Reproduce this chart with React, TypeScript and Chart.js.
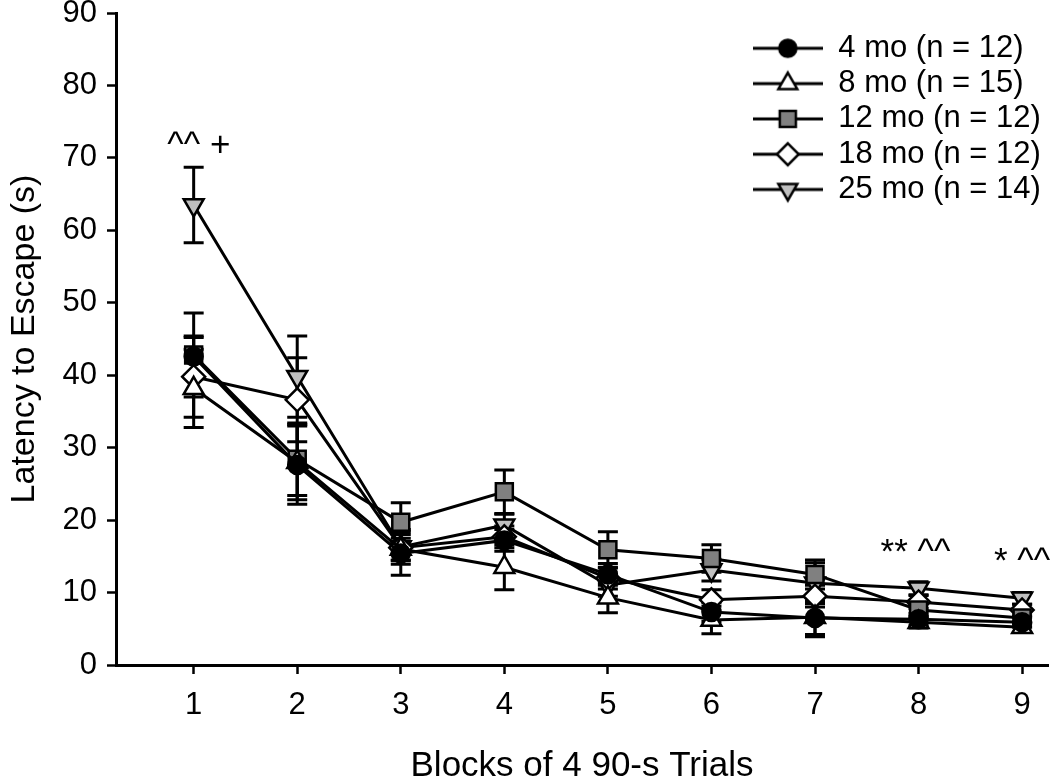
import React, { useEffect, useRef } from 'react';
import { Chart, registerables } from 'chart.js';

Chart.register(...registerables);

// ---------- data ----------
const blocks = [1, 2, 3, 4, 5, 6, 7, 8, 9];
const xTickValues = [1, 2, 3, 4, 5, 6, 7, 8, 9];
const seriesLabels = ['4 mo (n = 12)', '8 mo (n = 15)', '12 mo (n = 12)', '18 mo (n = 12)', '25 mo (n = 14)'];

const mo4 = [42.6, 27.6, 15.4, 17.2, 12.5, 7.3, 6.5, 6.3, 5.9];
const mo4Sem = [2.6, 5.4, 3.0, 1.5, 1.5, 1.3, 2.3, 0.8, 0.7];
const mo8 = [38.2, 28.0, 16.0, 13.5, 9.3, 6.2, 6.6, 5.9, 5.2];
const mo8Sem = [5.4, 5.2, 1.5, 3.1, 2.1, 1.9, 2.7, 0.8, 0.7];
const mo12 = [42.8, 28.4, 19.7, 23.9, 15.9, 14.7, 12.5, 7.6, 6.5];
const mo12Sem = [5.8, 5.0, 2.7, 3.0, 2.5, 1.9, 2.0, 0.9, 0.8];
const mo18 = [39.8, 36.6, 16.2, 17.7, 12.0, 9.0, 9.5, 8.7, 7.6];
const mo18Sem = [5.6, 5.8, 1.8, 1.5, 1.5, 1.4, 1.5, 0.9, 0.8];
const mo25 = [63.5, 39.8, 16.3, 19.3, 11.0, 13.1, 11.3, 10.6, 9.2];
const mo25Sem = [5.2, 5.6, 2.4, 1.5, 1.5, 1.5, 2.8, 0.9, 0.8];

const annotationTexts = ['^^ +', '** ^^', '* ^^'];
const annotationBlocks = [1.05, 7.97, 9];
const annotationValues = [71.6, 15.4, 14.2];

// ---------- styles ----------
const FONT = "'Liberation Sans', Arial, sans-serif";
const seriesValues = [mo4, mo8, mo12, mo18, mo25];
const seriesSems = [mo4Sem, mo8Sem, mo12Sem, mo18Sem, mo25Sem];
const markerStyles = ['circle', 'triangle', 'rect', 'rectRot', 'triangle'];
const markerFills = ['#000000', '#ffffff', '#808080', '#ffffff', '#c0c0c0'];
const markerRadii = [9, 11.5, 12, 11.5, 11.5];
const markerRotations = [0, 0, 0, 0, 180];

function drawMarker(ctx: CanvasRenderingContext2D, style: string, x: number, y: number, r: number, rotDeg: number) {
  const rad = (rotDeg * Math.PI) / 180;
  ctx.beginPath();
  if (style === 'circle') {
    ctx.arc(x, y, r, 0, Math.PI * 2);
  } else if (style === 'triangle') {
    let a = rad;
    ctx.moveTo(x + Math.sin(a) * r, y - Math.cos(a) * r);
    a += (2 * Math.PI) / 3;
    ctx.lineTo(x + Math.sin(a) * r, y - Math.cos(a) * r);
    a += (2 * Math.PI) / 3;
    ctx.lineTo(x + Math.sin(a) * r, y - Math.cos(a) * r);
    ctx.closePath();
  } else if (style === 'rect') {
    const s = r * Math.SQRT1_2;
    ctx.rect(x - s, y - s, 2 * s, 2 * s);
  } else if (style === 'rectRot') {
    ctx.moveTo(x, y - r);
    ctx.lineTo(x + r, y);
    ctx.lineTo(x, y + r);
    ctx.lineTo(x - r, y);
    ctx.closePath();
  }
  ctx.fill();
  ctx.stroke();
}

function makeLegendSymbol(i: number): HTMLCanvasElement {
  const c = document.createElement('canvas');
  c.width = 70;
  c.height = 30;
  const ctx = c.getContext('2d') as CanvasRenderingContext2D;
  ctx.strokeStyle = '#000';
  ctx.lineWidth = 3;
  ctx.beginPath();
  ctx.moveTo(0, 15);
  ctx.lineTo(70, 15);
  ctx.stroke();
  ctx.fillStyle = markerFills[i];
  ctx.lineWidth = 2.5;
  drawMarker(ctx, markerStyles[i], 35, 15, markerRadii[i] * 0.95, markerRotations[i]);
  return c;
}

const errorBarPlugin = {
  id: 'errorBars',
  beforeDatasetsDraw(chart: any) {
    const ctx = chart.ctx as CanvasRenderingContext2D;
    const yScale = chart.scales.y;
    ctx.save();
    ctx.strokeStyle = '#000';
    ctx.lineWidth = 3;
    chart.data.datasets.forEach((ds: any, di: number) => {
      const meta = chart.getDatasetMeta(di);
      const sems = seriesSems[di];
      meta.data.forEach((pt: any, j: number) => {
        const v = seriesValues[di][j];
        const top = yScale.getPixelForValue(v + sems[j]);
        const bot = yScale.getPixelForValue(v - sems[j]);
        const x = pt.x;
        ctx.beginPath();
        ctx.moveTo(x, top);
        ctx.lineTo(x, bot);
        ctx.moveTo(x - 10, top);
        ctx.lineTo(x + 10, top);
        ctx.moveTo(x - 10, bot);
        ctx.lineTo(x + 10, bot);
        ctx.stroke();
      });
    });
    ctx.restore();
  },
};

const annotationPlugin = {
  id: 'sigMarks',
  afterDatasetsDraw(chart: any) {
    const ctx = chart.ctx as CanvasRenderingContext2D;
    ctx.save();
    ctx.fillStyle = '#000';
    ctx.font = `35px ${FONT}`;
    ctx.textAlign = 'center';
    ctx.textBaseline = 'middle';
    annotationTexts.forEach((t, i) => {
      const x = chart.scales.x.getPixelForValue(annotationBlocks[i]);
      const y = chart.scales.y.getPixelForValue(annotationValues[i]);
      ctx.fillText(t, x, y);
    });
    ctx.restore();
  },
};

const legendPlacer = {
  id: 'legendPlacer',
  afterLayout(chart: any) {
    const lg = chart.legend;
    if (!lg) return;
    lg.left = 748.5;
    lg.top = 28.5;
    lg.right = 1050;
    lg.bottom = chart.chartArea.bottom;
  },
};

export default function App() {
  const ref = useRef<HTMLCanvasElement | null>(null);

  useEffect(() => {
    document.body.style.margin = '0';
    const canvas = ref.current;
    if (!canvas) return;
    Chart.defaults.color = '#000';
    const symbols = seriesLabels.map((_, i) => makeLegendSymbol(i));

    const datasets = seriesLabels.map((label, i) => ({
      label,
      data: blocks.map((b, j) => ({ x: b, y: seriesValues[i][j] })),
      borderColor: '#000',
      borderWidth: 3,
      pointStyle: markerStyles[i],
      pointRadius: markerRadii[i],
      pointRotation: markerRotations[i],
      pointBackgroundColor: markerFills[i],
      pointBorderColor: '#000',
      pointBorderWidth: 2.5,
      tension: 0,
      fill: false,
    }));

    const chart = new Chart(canvas, {
      type: 'line',
      data: { datasets },
      plugins: [errorBarPlugin, annotationPlugin, legendPlacer],
      options: {
        animation: false,
        responsive: false,
        devicePixelRatio: 1,
        layout: { autoPadding: false, padding: { left: 0, top: 13, right: 2, bottom: 0 } },
        plugins: {
          tooltip: { enabled: false },
          legend: {
            position: 'chartArea',
            align: 'start',
            labels: {
              usePointStyle: true,
              pointStyleWidth: 70,
              padding: 4.3,
              color: '#000',
              font: { family: FONT, size: 31 },
              generateLabels: () =>
                seriesLabels.map((text, i) => ({
                  text,
                  pointStyle: symbols[i],
                  fillStyle: markerFills[i],
                  strokeStyle: '#000',
                  lineWidth: 0,
                  hidden: false,
                  datasetIndex: i,
                  fontColor: '#000',
                })),
            },
          },
        },
        scales: {
          x: {
            type: 'linear',
            min: 0.25,
            max: 9.25,
            afterBuildTicks: (scale: any) => {
              scale.ticks = xTickValues.map((v) => ({ value: v }));
            },
            afterFit: (scale: any) => {
              scale.height = 115;
              scale.paddingLeft = 0;
              scale.paddingRight = 0;
            },
            grid: { drawOnChartArea: false, drawTicks: true, tickLength: 9, tickWidth: 2.5, color: '#000' },
            border: { display: true, color: '#000', width: 3 },
            ticks: { color: '#000', padding: 13, font: { family: FONT, size: 31 }, autoSkip: false, maxRotation: 0 },
            title: {
              display: true,
              text: 'Blocks of 4 90-s Trials',
              color: '#000',
              font: { family: FONT, size: 35, lineHeight: 1 },
              padding: { top: 0, bottom: -4 },
            },
          },
          y: {
            type: 'linear',
            min: 0,
            max: 90,
            ticks: { stepSize: 10, color: '#000', padding: 10, font: { family: FONT, size: 31 } },
            afterFit: (scale: any) => {
              scale.width = 116;
              scale.paddingTop = 0;
              scale.paddingBottom = 0;
            },
            grid: { drawOnChartArea: false, drawTicks: true, tickLength: 9, tickWidth: 2.5, color: '#000' },
            border: { display: true, color: '#000', width: 3 },
            title: {
              display: true,
              text: 'Latency to Escape (s)',
              color: '#000',
              font: { family: FONT, size: 34, lineHeight: 1 },
              padding: { top: 8, bottom: 0 },
            },
          },
        },
      } as any,
    });
    return () => chart.destroy();
  }, []);

  return <canvas ref={ref} width={1050} height={780} style={{ display: 'block' }} />;
}
